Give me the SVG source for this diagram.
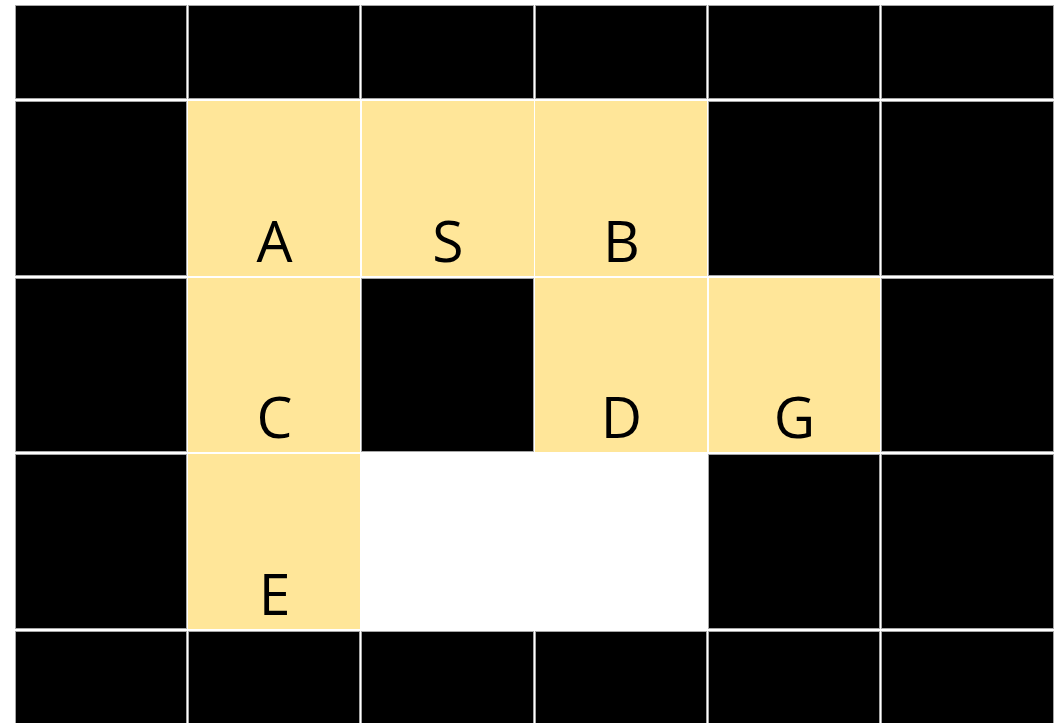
<svg xmlns="http://www.w3.org/2000/svg" width="1061" height="723" viewBox="0 0 1061 723">
<style>
.k{fill:#000;stroke:#a6a6a6;stroke-width:1}
.y{fill:#FFE699}
.t{font-family:"Open Sans","Liberation Sans",sans-serif;font-size:57px;fill:#000;text-anchor:middle}
</style>
<rect width="1061" height="723" fill="#fff"/>
<g id="row1">
<rect class="k" x="15.5" y="5.5" width="171" height="93"/>
<rect class="k" x="188.5" y="5.5" width="171" height="93"/>
<rect class="k" x="361.5" y="5.5" width="172" height="93"/>
<rect class="k" x="535.5" y="5.5" width="171" height="93"/>
<rect class="k" x="708.5" y="5.5" width="171" height="93"/>
<rect class="k" x="881.5" y="5.5" width="172" height="93"/>
</g>
<g id="row2">
<rect class="k" x="15.5" y="101.5" width="171" height="174"/>
<g id="A"><rect class="y" x="188" y="101" width="172" height="175"/><text class="t" x="274.5" y="262">A</text></g>
<g id="S"><rect class="y" x="362" y="101" width="172" height="175"/><text class="t" x="448" y="262">S</text></g>
<g id="B"><rect class="y" x="535" y="101" width="172" height="175"/><text class="t" x="621.5" y="262">B</text></g>
<rect class="k" x="708.5" y="101.5" width="171" height="174"/>
<rect class="k" x="881.5" y="101.5" width="172" height="174"/>
</g>
<g id="row3">
<rect class="k" x="15.5" y="278.5" width="171" height="173"/>
<g id="C"><rect class="y" x="188" y="278" width="172" height="174"/><text class="t" x="274.5" y="438">C</text></g>
<rect class="k" x="361.5" y="278.5" width="172" height="173"/>
<g id="D"><rect class="y" x="535" y="278" width="172" height="174"/><text class="t" x="621.5" y="438">D</text></g>
<g id="G"><rect class="y" x="709" y="278" width="171" height="174"/><text class="t" x="794.5" y="438">G</text></g>
<rect class="k" x="881.5" y="278.5" width="172" height="173"/>
</g>
<g id="row4">
<rect class="k" x="15.5" y="454.5" width="171" height="174"/>
<g id="E"><rect class="y" x="188" y="454" width="172" height="175"/><text class="t" x="274.5" y="615">E</text></g>
<rect class="k" x="708.5" y="454.5" width="171" height="174"/>
<rect class="k" x="881.5" y="454.5" width="172" height="174"/>
</g>
<g id="row5">
<rect class="k" x="15.5" y="631.5" width="171" height="100"/>
<rect class="k" x="188.5" y="631.5" width="171" height="100"/>
<rect class="k" x="361.5" y="631.5" width="172" height="100"/>
<rect class="k" x="535.5" y="631.5" width="171" height="100"/>
<rect class="k" x="708.5" y="631.5" width="171" height="100"/>
<rect class="k" x="881.5" y="631.5" width="172" height="100"/>
</g>
<g id="connectors"></g>
</svg>
